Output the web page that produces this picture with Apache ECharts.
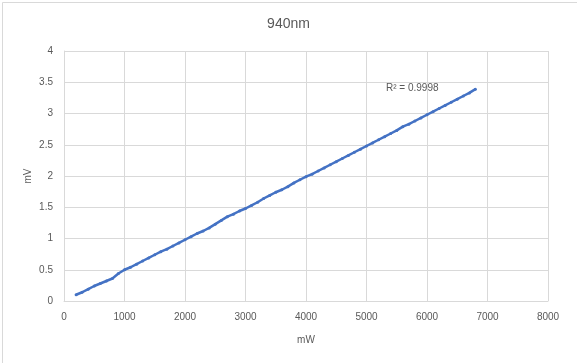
<!DOCTYPE html>
<html>
<head>
<meta charset="utf-8">
<script src="https://cdn.jsdelivr.net/npm/echarts@6/dist/echarts.min.js"></script>
<style>
  html, body { margin: 0; padding: 0; background: #ffffff; }
  #chart { width: 577px; height: 363px; }
</style>
</head>
<body>
<div id="chart"></div>
<script>
// Chart data
const chartTitle = '940nm';
const xAxisName = 'mW';
const yAxisName = 'mV';
const rSquaredText = 'R² = 0.9998';
const powerMW = [200, 300, 400, 500, 600, 700, 800, 900, 1000, 1100, 1200, 1300, 1400, 1500, 1600, 1700, 1800, 1900, 2000,
  2100, 2200, 2300, 2400, 2500, 2600, 2700, 2800, 2900, 3000, 3100, 3200, 3300, 3400, 3500, 3600, 3700, 3800, 3900, 4000,
  4100, 4200, 4300, 4400, 4500, 4600, 4700, 4800, 4900, 5000, 5100, 5200, 5300, 5400, 5500, 5600, 5700, 5800, 5900, 6000,
  6100, 6200, 6300, 6400, 6500, 6600, 6700, 6800];
const voltageMV = [0.10, 0.14, 0.19, 0.24, 0.28, 0.32, 0.36, 0.44, 0.50, 0.54, 0.59, 0.64, 0.69, 0.74, 0.79, 0.83, 0.88, 0.93, 0.98,
  1.03, 1.08, 1.12, 1.17, 1.23, 1.29, 1.35, 1.39, 1.44, 1.48, 1.53, 1.58, 1.64, 1.69, 1.74, 1.78, 1.83, 1.89, 1.94, 1.99,
  2.03, 2.08, 2.13, 2.18, 2.23, 2.28, 2.33, 2.38, 2.43, 2.48, 2.53, 2.58, 2.63, 2.68, 2.73, 2.79, 2.83, 2.88, 2.93, 2.98,
  3.03, 3.08, 3.13, 3.18, 3.23, 3.28, 3.33, 3.39];

const seriesData = powerMW.map((x, i) => [x, voltageMV[i]]);

const textColor = '#595959';
const gridColor = '#d9d9d9';
const fontFamily = 'Liberation Sans, Arial, sans-serif';

const chart = echarts.init(document.getElementById('chart'), null, { renderer: 'canvas' });
chart.setOption({
  animation: false,
  backgroundColor: '#ffffff',
  title: {
    text: chartTitle,
    left: 'center',
    top: 12,
    textStyle: { color: textColor, fontSize: 14, fontWeight: 'normal', fontFamily: fontFamily }
  },
  grid: { left: 64, right: 29, top: 51, bottom: 62, containLabel: false },
  xAxis: {
    type: 'value',
    min: 0, max: 8000, interval: 1000,
    name: xAxisName,
    nameLocation: 'middle',
    nameGap: 34,
    nameMoveOverlap: false,
    nameTextStyle: { color: textColor, fontSize: 10, fontFamily: fontFamily },
    axisLine: { show: true, lineStyle: { color: gridColor } },
    axisTick: { show: false },
    axisLabel: { color: textColor, fontSize: 10, margin: 11, fontFamily: fontFamily, formatter: (v) => String(v) },
    splitLine: { show: true, lineStyle: { color: gridColor, width: 1 } }
  },
  yAxis: {
    type: 'value',
    min: 0, max: 4, interval: 0.5,
    name: yAxisName,
    nameLocation: 'middle',
    nameGap: 31,
    nameMoveOverlap: false,
    nameRotate: 90,
    nameTextStyle: { color: textColor, fontSize: 10, fontFamily: fontFamily },
    axisLine: { show: true, lineStyle: { color: gridColor } },
    axisTick: { show: false },
    axisLabel: { color: textColor, fontSize: 10, margin: 11, fontFamily: fontFamily, padding: [0, 0, 2, 0] },
    splitLine: { show: true, lineStyle: { color: gridColor, width: 1 } }
  },
  series: [{
    type: 'line',
    data: seriesData,
    symbol: 'circle',
    symbolSize: 3,
    showSymbol: true,
    itemStyle: { color: '#4472C4' },
    lineStyle: { color: '#4472C4', width: 2.5 },
    z: 3
  }],
  graphic: [
    {
      type: 'rect',
      left: 0, top: 0,
      shape: { x: 0.5, y: 0.5, width: 575, height: 361 },
      style: { fill: 'none', stroke: '#d9d9d9', lineWidth: 1 },
      silent: true
    },
    {
      type: 'text',
      left: 386, top: 83,
      style: { text: rSquaredText, fill: textColor, fontSize: 10, fontFamily: fontFamily }
    }
  ]
});
</script>
</body>
</html>
